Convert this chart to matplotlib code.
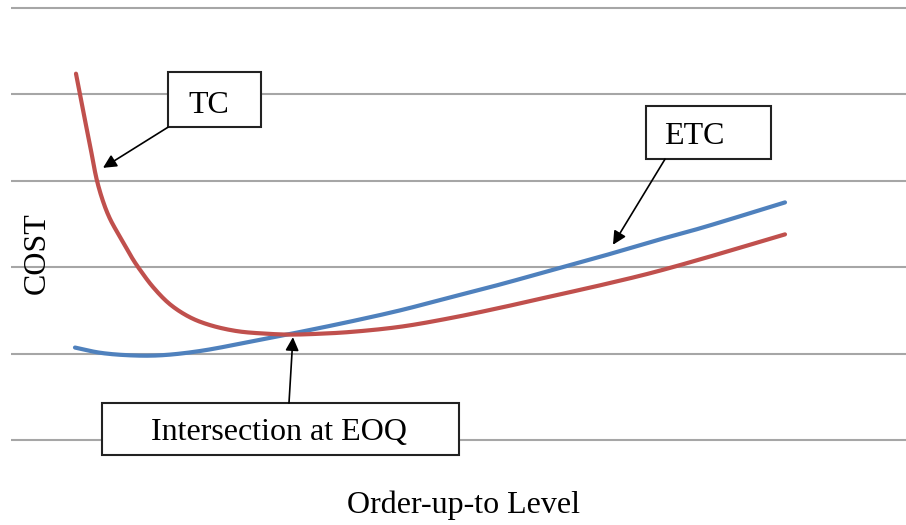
import matplotlib
matplotlib.use("Agg")
import matplotlib.pyplot as plt
import numpy as np
from matplotlib.patches import Rectangle

# Data (arbitrary units)
tc_x = [7.26, 8.04, 8.83, 9.61, 10.39, 11.06, 11.84, 12.74, 13.63, 14.41, 15.87,
        17.77, 20.00, 22.23, 25.25, 28.60, 31.17, 34.53, 37.88, 43.46, 49.05,
        54.64, 60.22, 65.81, 71.40, 76.98, 86.48]
tc_y = [4.24, 3.82, 3.41, 3.00, 2.73, 2.56, 2.41, 2.25, 2.09, 1.97, 1.77,
        1.57, 1.42, 1.33, 1.26, 1.23, 1.22, 1.23, 1.25, 1.31, 1.41,
        1.53, 1.66, 1.79, 1.93, 2.09, 2.38]
etc_x = [7.15, 9.94, 13.30, 16.65, 21.12, 27.82, 32.29, 37.88, 43.46, 49.05, 54.64,
         60.22, 65.81, 71.40, 76.98, 86.48]
etc_y = [1.07, 1.01, 0.98, 0.98, 1.03, 1.16, 1.25, 1.37, 1.50, 1.65, 1.80,
         1.96, 2.12, 2.29, 2.45, 2.75]
grid_levels = [0, 1, 2, 3, 4, 5]

SERIF = ["Liberation Serif", "DejaVu Serif"]


def smooth(xs, ys, sx=8.95, sy=86.4, n=20):
    """Centripetal Catmull-Rom curve through the given points (drawing only)."""
    P = np.column_stack([np.asarray(xs) * sx, np.asarray(ys) * sy])
    P = np.vstack([2 * P[0] - P[1], P, 2 * P[-1] - P[-2]])
    out = []
    for i in range(1, len(P) - 2):
        p0, p1, p2, p3 = P[i - 1], P[i], P[i + 1], P[i + 2]
        t0 = 0.0
        t1 = t0 + np.linalg.norm(p1 - p0) ** 0.5
        t2 = t1 + np.linalg.norm(p2 - p1) ** 0.5
        t3 = t2 + np.linalg.norm(p3 - p2) ** 0.5
        t = np.linspace(t1, t2, n)[:, None]
        a1 = (t1 - t) / (t1 - t0) * p0 + (t - t0) / (t1 - t0) * p1
        a2 = (t2 - t) / (t2 - t1) * p1 + (t - t1) / (t2 - t1) * p2
        a3 = (t3 - t) / (t3 - t2) * p2 + (t - t2) / (t3 - t2) * p3
        b1 = (t2 - t) / (t2 - t0) * a1 + (t - t0) / (t2 - t0) * a2
        b2 = (t3 - t) / (t3 - t1) * a2 + (t - t1) / (t3 - t1) * a3
        c = (t2 - t) / (t2 - t1) * b1 + (t - t1) / (t2 - t1) * b2
        out.append(c if i == 1 else c[1:])
    C = np.vstack(out)
    return C[:, 0] / sx, C[:, 1] / sy


fig = plt.figure(figsize=(9.06, 5.25), dpi=100)
ax = fig.add_axes([11 / 906, 0.15368, 895 / 906, 0.83931])
ax.set_xlim(0, 100)
ax.set_ylim(-0.05, 5.05)
for s in ax.spines.values():
    s.set_visible(False)
ax.set_xticks([])
ax.set_yticks([])
for g in grid_levels:
    ax.axhline(g, color="#A6A6A6", lw=1.5, zorder=1)

ex, ey = smooth(etc_x, etc_y)
tx, ty = smooth(tc_x, tc_y)
ax.plot(ex, ey, color="#4F81BD", lw=3.0, solid_capstyle="round",
        solid_joinstyle="round", zorder=3)
ax.plot(tx, ty, color="#C0504D", lw=3.0, solid_capstyle="round",
        solid_joinstyle="round", zorder=3)


def box(x0, x1, y0, y1):
    ax.add_patch(Rectangle((x0, y0), x1 - x0, y1 - y0, facecolor="white",
                           edgecolor="#222222", lw=1.5, zorder=5, clip_on=False))


def arrow(start, tip):
    ax.annotate("", xy=tip, xytext=start,
                arrowprops=dict(arrowstyle="-|>", color="black", lw=1.2,
                                mutation_scale=20, shrinkA=0, shrinkB=0),
                zorder=6, annotation_clip=False)


# TC
box(17.54, 27.93, 3.62, 4.26)
ax.text(22.12, 3.785, "TC", ha="center", va="baseline", fontsize=23,
        family=SERIF, zorder=7)
arrow((17.54, 3.62), (10.28, 3.15))

# ETC
box(70.95, 84.92, 3.25, 3.87)
ax.text(76.4, 3.426, "ETC", ha="center", va="baseline", fontsize=23,
        family=SERIF, zorder=7)
arrow((73.07, 3.25), (67.26, 2.26))

# EOQ
box(10.17, 50.06, -0.174, 0.428)
ax.text(29.94, 0.0, "Intersection at EOQ", ha="center", va="baseline",
        fontsize=23, family=SERIF, zorder=7)
arrow((31.06, 0.428), (31.5, 1.19))

fig.text(464 / 906, 1 - 505 / 525, "Order-up-to Level", ha="center", va="center",
         fontsize=23, family=SERIF)
fig.text(37 / 906, 1 - 253 / 525, "COST", ha="center", va="center", rotation=90,
         fontsize=23, family=SERIF)

fig.savefig("out.png", dpi=100)
